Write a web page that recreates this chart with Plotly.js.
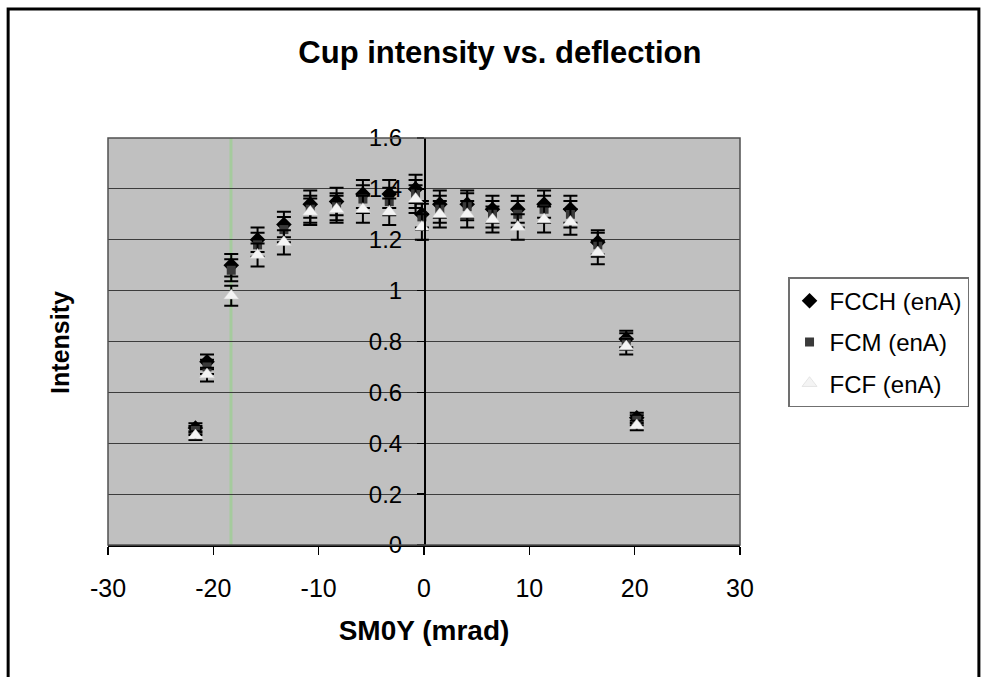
<!DOCTYPE html>
<html>
<head>
<meta charset="utf-8">
<script src="https://cdn.plot.ly/plotly-3.0.1.min.js"></script>
<style>
html,body{margin:0;padding:0;background:#fff;}
#chart{width:984px;height:677px;}
</style>
</head>
<body>
<div id="chart"></div>
<script>
// Data
const smoy = [-21.7, -20.6, -18.3, -15.8, -13.3, -10.8, -8.3, -5.8, -3.3, -0.8, -0.2, 1.5, 4.1, 6.5, 8.9, 11.4, 13.9, 16.5, 19.2, 20.2];
const fcch = [0.46, 0.72, 1.10, 1.20, 1.26, 1.34, 1.35, 1.38, 1.38, 1.40, 1.30, 1.34, 1.34, 1.32, 1.32, 1.34, 1.32, 1.19, 0.81, 0.50];
const fcm  = [0.45, 0.70, 1.08, 1.18, 1.24, 1.32, 1.33, 1.36, 1.35, 1.38, 1.29, 1.32, 1.33, 1.30, 1.30, 1.32, 1.30, 1.18, 0.80, 0.49];
const fcf  = [0.43, 0.67, 0.98, 1.14, 1.19, 1.31, 1.32, 1.32, 1.31, 1.36, 1.25, 1.30, 1.30, 1.28, 1.25, 1.28, 1.27, 1.15, 0.78, 0.47];
const errorPercent = 4;

const seriesNames = ['FCCH (enA)', 'FCM (enA)', 'FCF (enA)'];
const xTickVals = [-30, -20, -10, 0, 10, 20, 30];
const xTickText = ['-30', '-20', '-10', '0', '10', '20', '30'];
const yTickVals = [0, 0.2, 0.4, 0.6, 0.8, 1, 1.2, 1.4, 1.6];
const yTickText = ['0', '0.2', '0.4', '0.6', '0.8', '1', '1.2', '1.4', '1.6'];

const FONT = 'Liberation Sans, Arial, sans-serif';

function errBar() {
  return {type: 'percent', value: errorPercent, visible: true, color: '#000', thickness: 2, width: 7};
}

const traces = [
  {x: smoy, y: fcch, name: seriesNames[0], type: 'scatter', mode: 'markers', legendgroup: 'a',
   marker: {symbol: 'diamond', size: 12, color: '#000000'}, error_y: errBar()},
  {x: smoy, y: fcm, name: seriesNames[1], type: 'scatter', mode: 'markers', legendgroup: 'b',
   marker: {symbol: 'square', size: 9, color: '#3a3a3a'}, error_y: errBar()},
  {x: smoy, y: fcf, name: seriesNames[2], type: 'scatter', mode: 'markers', legendgroup: 'c',
   marker: {symbol: 'triangle-up', size: 13, color: '#f4f4f4', line: {color: '#d0d0d0', width: 0.5}}, error_y: errBar()}
];

const layout = {
  width: 984, height: 677,
  paper_bgcolor: '#ffffff',
  plot_bgcolor: '#c0c0c0',
  margin: {l: 108, r: 244, t: 138, b: 132},
  font: {family: FONT, color: '#000'},
  showlegend: true,
  title: {
    text: 'Cup intensity vs. deflection',
    font: {family: FONT, size: 31, weight: 700, color: '#000'},
    xref: 'container', x: 0.508, xanchor: 'center',
    yref: 'container', y: 0.923, yanchor: 'middle'
  },
  xaxis: {
    range: [-30, 30], tickvals: xTickVals, ticktext: xTickText,
    ticks: 'outside', ticklen: 8, tickcolor: '#000', tickwidth: 1.5,
    showline: true, linecolor: '#000', linewidth: 1.5,
    showgrid: false, zeroline: false,
    tickfont: {family: FONT, size: 25, color: '#000'},
    ticklabelstandoff: 12,
    title: {text: 'SM0Y (mrad)', font: {family: FONT, size: 28, weight: 700, color: '#000'}, standoff: 20},
    fixedrange: true
  },
  yaxis: {
    range: [0, 1.6], tickvals: yTickVals, ticktext: yTickText,
    anchor: 'free', position: 0.5,
    ticks: 'outside', ticklen: 7, tickcolor: '#000', tickwidth: 1.5,
    showline: true, linecolor: '#000', linewidth: 1.5,
    showgrid: true, gridcolor: '#3c3c3c', gridwidth: 1.2,
    zeroline: false,
    tickfont: {family: FONT, size: 24, color: '#000'},
    ticklabelstandoff: 10,
    fixedrange: true
  },
  legend: {
    x: 1.076, xanchor: 'left', y: 0.658, yanchor: 'top',
    bgcolor: '#ffffff', bordercolor: '#707070', borderwidth: 1.5,
    font: {family: FONT, size: 24, color: '#000'},
    tracegroupgap: 7, traceorder: 'grouped'
  },
  annotations: [
    {text: 'Intensity', textangle: -90, showarrow: false,
     xref: 'paper', yref: 'paper', x: -0.076, y: 0.499, xanchor: 'center', yanchor: 'middle',
     font: {family: FONT, size: 25, weight: 700, color: '#000'}}
  ],
  shapes: [
    // plot-area border
    {type: 'rect', xref: 'paper', yref: 'paper', x0: 0, x1: 1, y0: 0, y1: 1,
     line: {color: '#505050', width: 1.5}, layer: 'above'},
    // faint green scan line
    {type: 'line', xref: 'paper', yref: 'paper', x0: 0.1946, x1: 0.1946, y0: 0, y1: 1,
     line: {color: 'rgba(160,205,150,0.85)', width: 3}, layer: 'below'},
    // outer chart frame
    {type: 'rect', xref: 'paper', yref: 'paper', x0: -0.158, x1: 1.378, y0: -0.36, y1: 1.317,
     line: {color: '#000', width: 3}, layer: 'above'}
  ]
};

Plotly.newPlot('chart', traces, layout, {displayModeBar: false, staticPlot: true});
</script>
</body>
</html>
